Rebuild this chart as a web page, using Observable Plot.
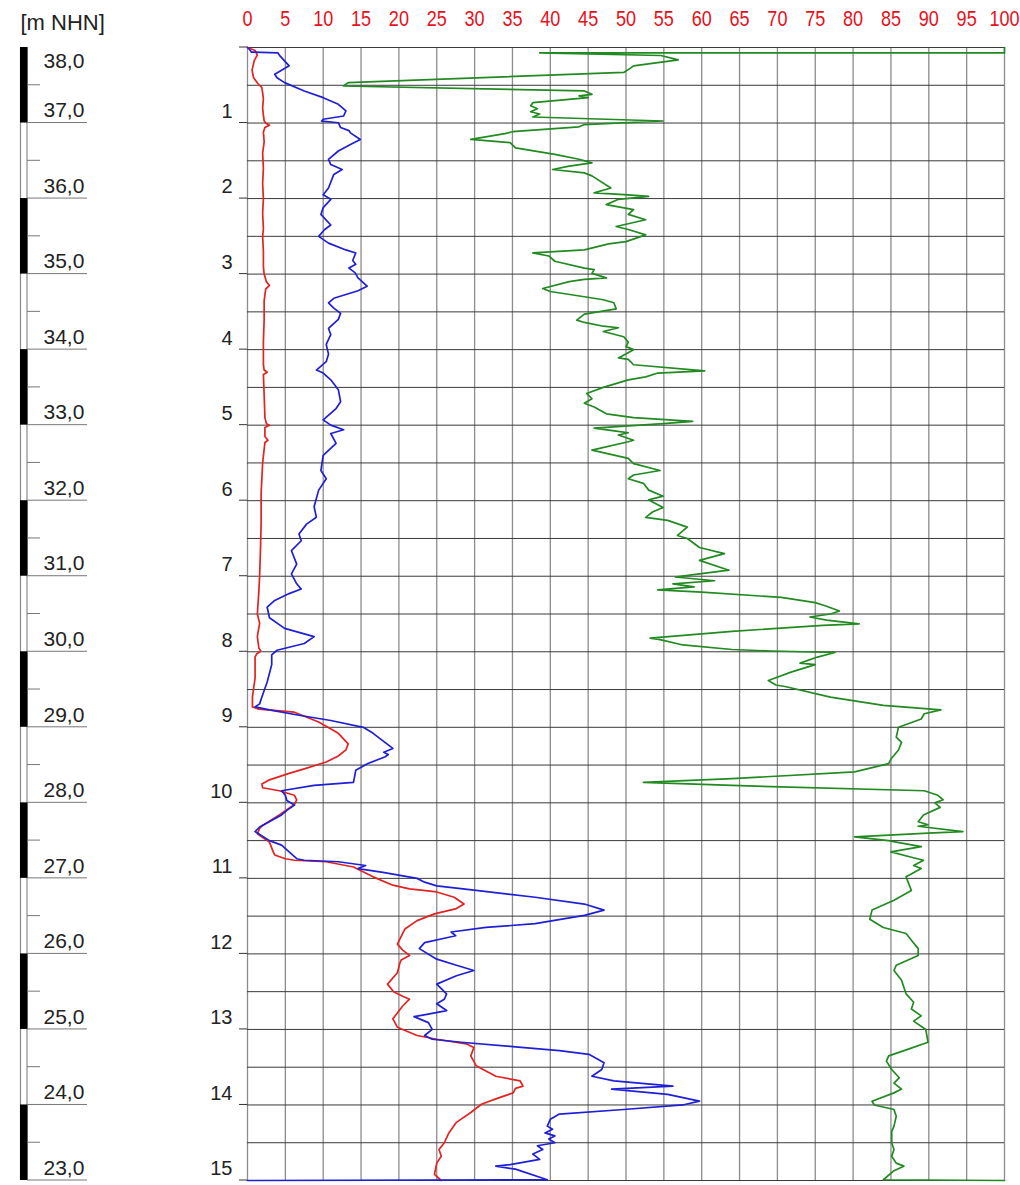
<!DOCTYPE html>
<html>
<head>
<meta charset="utf-8">
<script src="https://cdn.jsdelivr.net/npm/d3@7"></script>
<script src="https://cdn.jsdelivr.net/npm/@observablehq/plot@0.6"></script>
<style>
  html, body { margin: 0; padding: 0; background: #fff; overflow: hidden; }
  #chart svg { display: block; }
</style>
</head>
<body>
<div id="chart"></div>
<script>
// ---- axis / label data ----
const xTicks = [0, 5, 10, 15, 20, 25, 30, 35, 40, 45, 50, 55, 60, 65, 70, 75, 80, 85, 90, 95, 100];
const depthTickPos = [0, 1, 2, 3, 4, 5, 6, 7, 8, 9, 10, 11, 12, 13, 14, 15];
const depthLabelPos = [1, 2, 3, 4, 5, 6, 7, 8, 9, 10, 11, 12, 13, 14, 15];
const depthLabels = ["1", "2", "3", "4", "5", "6", "7", "8", "9", "10", "11", "12", "13", "14", "15"];
const elevDepth = [0, 1, 2, 3, 4, 5, 6, 7, 8, 9, 10, 11, 12, 13, 14, 15];
const elevLabels = ["38,0", "37,0", "36,0", "35,0", "34,0", "33,0", "32,0", "31,0", "30,0", "29,0", "28,0", "27,0", "26,0", "25,0", "24,0", "23,0"];
const axisTitle = "[m NHN]";

// ---- curves: [depth (m), value] ----
const redCurve = [
  [0,0],[0.02,0.5],[0.04,1.0],[0.1,1.3],[0.17,0.9],[0.3,0.6],[0.4,0.8],[0.48,1.4],[0.53,1.9],[0.6,2.0],
  [0.68,2.1],[0.8,2.0],[0.9,2.1],[0.97,2.2],[1.0,2.4],[1.03,2.9],[1.06,2.3],[1.12,2.1],[1.25,2.2],[1.4,2.0],
  [1.6,2.1],[1.8,2.0],[2.0,2.1],[2.2,2.0],[2.4,2.1],[2.5,2.0],[2.7,2.1],[2.9,2.1],[3.0,2.2],[3.1,2.5],
  [3.15,2.9],[3.2,2.4],[3.35,2.2],[3.6,2.2],[3.9,2.1],[4.2,2.1],[4.27,2.2],[4.3,2.6],[4.33,2.1],[4.6,2.2],
  [4.9,2.3],[4.98,2.5],[5.0,2.9],[5.03,2.3],[5.15,2.3],[5.2,2.7],[5.23,2.3],[5.5,2.0],[5.9,1.8],[6.3,1.8],
  [6.7,1.7],[7.0,1.6],[7.2,1.5],[7.5,1.3],[7.62,1.6],[7.8,1.3],[7.95,1.5],[7.99,1.75],[8.03,1.2],[8.07,1.0],
  [8.35,1.0],[8.6,0.65],[8.73,0.65],[8.76,1.5],[8.8,6.2],[8.93,9.4],[9.08,12.0],[9.22,13.3],[9.3,13.0],[9.38,12.0],
  [9.46,10.4],[9.55,7.5],[9.61,5.5],[9.7,2.8],[9.75,1.9],[9.8,2.0],[9.84,4.2],[9.9,6.2],[9.96,6.5],[10.02,6.2],
  [10.16,4.2],[10.3,2.0],[10.34,1.6],[10.41,1.3],[10.52,2.9],[10.65,3.4],[10.69,3.6],[10.74,5.0],[10.76,6.2],[10.78,10.4],
  [10.85,14.0],[10.98,16.6],[11.09,19.2],[11.14,21.4],[11.18,25.0],[11.25,27.3],[11.34,28.6],[11.4,27.6],[11.47,24.7],[11.56,22.4],
  [11.67,20.8],[11.87,19.8],[11.95,20.5],[12.02,21.4],[12.08,20.3],[12.13,20.1],[12.25,19.8],[12.4,18.5],[12.5,19.3],[12.56,20.5],
  [12.6,21.4],[12.69,20.5],[12.86,19.2],[12.97,19.8],[13.08,22.4],[13.13,25.0],[13.19,28.9],[13.24,29.9],[13.35,29.5],[13.48,30.2],
  [13.62,32.8],[13.68,36.0],[13.75,36.4],[13.78,35.4],[13.84,35.1],[13.92,32.8],[13.99,30.9],[14.1,29.5],[14.23,27.6],[14.37,26.6],
  [14.5,26.0],[14.59,25.3],[14.68,25.6],[14.77,25.0],[14.92,24.7],[15.0,25.6]
];

const blueCurve = [
  [0,0],[0.03,0.3],[0.06,0.5],[0.07,4.0],[0.1,4.2],[0.243,5.5],[0.3,4.5],[0.354,3.6],[0.4,3.9],[0.465,4.9],
  [0.575,7.5],[0.664,10.0],[0.752,12.0],[0.84,13.0],[0.907,12.7],[0.95,10.0],[0.975,9.8],[0.996,12.0],[1.06,12.3],[1.1,13.4],
  [1.13,13.6],[1.217,14.9],[1.283,13.6],[1.37,12.0],[1.48,10.7],[1.55,11.0],[1.615,12.5],[1.68,11.4],[1.86,10.7],[1.95,10.0],
  [2.01,11.0],[2.12,10.0],[2.21,9.7],[2.35,11.0],[2.41,10.2],[2.5,9.4],[2.59,10.7],[2.68,13.0],[2.72,14.3],[2.82,13.9],
  [2.87,14.3],[2.92,13.4],[2.98,14.2],[3.05,14.6],[3.16,15.8],[3.22,14.6],[3.32,11.4],[3.38,10.7],[3.45,11.4],[3.52,12.3],
  [3.6,12.0],[3.72,10.7],[3.8,11.0],[3.93,10.4],[4.06,10.7],[4.16,10.4],[4.27,9.1],[4.31,10.0],[4.4,11.0],[4.53,12.0],
  [4.69,12.3],[4.78,11.7],[4.93,10.0],[5.0,11.0],[5.06,12.7],[5.11,11.0],[5.24,11.7],[5.4,10.0],[5.6,9.7],[5.71,10.4],
  [5.86,9.4],[6.08,8.8],[6.22,9.1],[6.31,7.8],[6.44,6.8],[6.53,7.1],[6.66,5.8],[6.84,6.5],[6.97,5.8],[7.1,6.5],
  [7.17,7.1],[7.23,5.5],[7.32,3.6],[7.41,2.6],[7.55,2.9],[7.69,4.9],[7.8,8.8],[7.89,7.5],[7.98,3.9],[8.04,3.2],
  [8.17,3.2],[8.4,2.6],[8.6,1.9],[8.69,1.6],[8.73,1.0],[8.77,2.9],[8.84,6.8],[8.91,11.0],[9.0,15.3],[9.08,16.6],
  [9.15,17.5],[9.28,19.2],[9.33,18.0],[9.36,18.6],[9.39,18.2],[9.48,15.9],[9.57,14.3],[9.73,14.0],[9.77,8.8],[9.84,4.5],
  [9.9,5.0],[9.97,5.2],[10.03,6.2],[10.1,5.2],[10.16,4.5],[10.32,1.6],[10.38,1.0],[10.5,2.9],[10.56,4.5],[10.65,5.5],
  [10.74,6.5],[10.76,7.5],[10.78,12.0],[10.83,15.6],[10.87,14.6],[10.92,17.9],[11.0,22.4],[11.05,23.4],[11.1,25.0],[11.16,30.2],
  [11.25,38.0],[11.34,44.5],[11.42,47.1],[11.49,44.5],[11.6,38.0],[11.65,31.5],[11.71,26.9],[11.76,27.5],[11.78,26.6],[11.85,23.4],
  [11.93,22.7],[12.07,25.0],[12.15,27.6],[12.22,29.9],[12.29,27.6],[12.4,25.0],[12.53,26.3],[12.6,26.0],[12.66,25.0],[12.75,26.3],
  [12.8,23.7],[12.83,22.0],[12.91,23.9],[13.0,24.4],[13.08,23.4],[13.13,24.4],[13.17,28.2],[13.23,35.4],[13.28,41.2],[13.33,45.1],
  [13.44,47.1],[13.53,46.8],[13.62,45.5],[13.68,48.4],[13.75,56.2],[13.79,48.1],[13.86,55.5],[13.95,59.7],[14.0,57.5],[14.06,49.7],
  [14.12,41.2],[14.19,40.0],[14.28,39.6],[14.32,40.3],[14.37,39.3],[14.41,40.6],[14.45,39.8],[14.5,40.6],[14.54,38.3],[14.59,39.0],
  [14.65,37.7],[14.72,38.6],[14.79,34.7],[14.81,32.8],[14.85,35.4],[14.99,39.6],[15.0,0]
];

const greenCurve = [
  [0.0,100],[0.07,100],[0.07,38.6],[0.106,54.6],[0.163,56.9],[0.243,51.0],[0.28,50.5],[0.33,49.7],[0.465,13.3],[0.51,12.7],
  [0.575,44.5],[0.62,45.5],[0.64,43.8],[0.664,45.0],[0.73,37.7],[0.77,37.4],[0.81,38.3],[0.85,37.4],[0.88,38.6],[0.92,37.7],
  [0.973,54.9],[1.02,44.5],[1.05,43.8],[1.115,35.0],[1.14,34.0],[1.217,29.5],[1.26,34.7],[1.33,35.4],[1.416,40.6],[1.48,43.8],
  [1.527,45.5],[1.57,42.5],[1.615,40.3],[1.66,44.5],[1.7,45.5],[1.86,48.0],[1.925,45.8],[1.95,50.3],[1.97,53.0],[2.01,49.0],
  [2.08,47.4],[2.146,51.0],[2.21,50.3],[2.28,52.6],[2.37,48.7],[2.41,50.3],[2.48,52.6],[2.57,50.0],[2.6,47.7],[2.68,44.5],
  [2.72,37.7],[2.76,39.8],[2.83,40.6],[2.92,44.5],[2.94,45.8],[2.99,45.5],[3.05,47.4],[3.07,44.5],[3.1,42.5],[3.19,39.0],
  [3.23,40.0],[3.3,44.5],[3.34,47.0],[3.38,48.4],[3.46,48.7],[3.53,44.5],[3.61,43.5],[3.64,44.5],[3.69,47.0],[3.71,49.0],
  [3.76,47.0],[3.83,49.7],[3.9,50.3],[3.96,50.0],[4.0,51.0],[4.11,49.0],[4.13,50.3],[4.2,51.0],[4.28,60.4],[4.31,54.2],
  [4.36,52.6],[4.4,50.3],[4.5,47.0],[4.58,44.8],[4.65,45.5],[4.71,44.5],[4.76,45.8],[4.85,47.4],[4.9,51.0],[4.95,58.8],
  [4.98,54.9],[5.04,45.8],[5.08,48.7],[5.1,50.3],[5.13,49.0],[5.2,51.0],[5.22,50.3],[5.33,45.5],[5.38,47.7],[5.44,50.3],
  [5.51,51.0],[5.6,54.5],[5.66,51.0],[5.71,50.3],[5.77,52.3],[5.86,53.0],[5.94,54.9],[5.99,53.0],[6.09,54.9],[6.15,53.5],
  [6.22,52.6],[6.26,55.5],[6.35,58.1],[6.46,56.8],[6.5,58.1],[6.62,59.7],[6.7,63.0],[6.79,59.7],[6.92,63.6],[6.97,59.7],
  [7.01,56.5],[7.06,61.7],[7.1,56.2],[7.14,59.0],[7.18,54.2],[7.21,60.0],[7.28,70.5],[7.35,75.0],[7.39,76.3],[7.46,78.2],
  [7.5,77.0],[7.54,74.3],[7.58,76.5],[7.63,80.8],[7.65,76.0],[7.73,64.0],[7.82,53.2],[7.84,54.5],[7.91,57.5],[7.97,64.0],
  [7.99,69.2],[8.01,77.6],[8.07,75.3],[8.15,73.0],[8.17,75.0],[8.27,71.8],[8.38,68.8],[8.44,69.8],[8.46,71.0],[8.6,77.0],
  [8.71,84.0],[8.77,91.6],[8.82,89.4],[8.89,89.0],[9.0,86.0],[9.13,85.7],[9.2,86.4],[9.3,86.0],[9.42,85.0],[9.48,84.7],
  [9.59,80.2],[9.68,64.0],[9.73,52.3],[9.77,64.0],[9.84,89.4],[9.9,91.2],[9.96,91.9],[10.0,90.8],[10.06,91.5],[10.16,89.3],
  [10.25,88.6],[10.29,89.9],[10.31,88.6],[10.38,94.5],[10.4,89.9],[10.45,80.2],[10.5,84.7],[10.52,85.7],[10.58,89.0],[10.65,85.0],
  [10.72,87.7],[10.76,89.3],[10.83,88.0],[10.87,89.0],[10.98,87.0],[11.16,87.7],[11.29,85.4],[11.42,82.5],[11.54,82.2],[11.65,84.0],
  [11.73,87.0],[11.82,87.7],[11.93,88.6],[12.02,88.6],[12.15,85.7],[12.22,85.4],[12.35,86.4],[12.53,87.0],[12.64,88.0],[12.73,87.7],
  [12.82,89.0],[12.89,88.0],[13.0,89.6],[13.17,89.9],[13.26,87.3],[13.35,84.7],[13.42,84.4],[13.53,85.1],[13.64,86.1],[13.71,85.4],
  [13.79,86.4],[13.84,85.4],[13.95,82.5],[14.0,82.8],[14.06,85.4],[14.15,85.7],[14.28,85.4],[14.35,85.1],[14.5,85.1],[14.59,85.4],
  [14.68,85.1],[14.77,85.7],[14.81,86.7],[14.87,85.4],[14.99,84.0],[15.0,100]
];

// ---- grid definitions ----
const gridX = xTicks;
const gridY = d3.range(0, 15.001, 0.5);
const halfDepth = d3.range(0.5, 15, 1);
const blackIntervals = d3.range(0, 15, 2).map(a => [a, a + 1]);

// elevation column (scale bar) drawn with the plot's y scale
function elevationColumn(index, scales) {
  const y = scales.y;
  const g = d3.create("svg:g");
  const top = y(0), bottom = y(15);
  g.append("line").attr("x1", 20.5).attr("x2", 20.5).attr("y1", top).attr("y2", bottom)
    .attr("stroke", "#8a8a8a").attr("stroke-width", 1.2);
  g.append("line").attr("x1", 27).attr("x2", 27).attr("y1", top).attr("y2", bottom)
    .attr("stroke", "#8a8a8a").attr("stroke-width", 1.2);
  for (const [a, b] of blackIntervals) {
    g.append("rect").attr("x", 20).attr("width", 7.5).attr("y", y(a)).attr("height", y(b) - y(a)).attr("fill", "#000");
  }
  for (const d of elevDepth.slice(1)) {
    g.append("line").attr("x1", 27).attr("x2", 87).attr("y1", y(d)).attr("y2", y(d))
      .attr("stroke", "#777").attr("stroke-width", 1);
  }
  for (const d of halfDepth) {
    g.append("line").attr("x1", 27).attr("x2", 40).attr("y1", y(d)).attr("y2", y(d))
      .attr("stroke", "#777").attr("stroke-width", 1);
  }
  const x0 = scales.x(0);
  for (const d of depthTickPos) {
    g.append("line").attr("x1", x0 - 8).attr("x2", x0).attr("y1", y(d)).attr("y2", y(d))
      .attr("stroke", "#333").attr("stroke-width", 1);
  }
  return g.node();
}

const font = "'Liberation Sans', Arial, Helvetica, sans-serif";

const chart = Plot.plot({
  width: 1020,
  height: 1185,
  marginTop: 47,
  marginBottom: 5,
  marginLeft: 247,
  marginRight: 16,
  x: { domain: [0, 100], axis: null },
  y: { domain: [0, 15], reverse: true, axis: null },
  style: { fontFamily: font, background: "#fff", overflow: "hidden" },
  marks: [
    Plot.ruleX(gridX, { stroke: "#8c8c8c", strokeWidth: 1.3 }),
    Plot.ruleY(gridY, { stroke: "#3a3a3a", strokeWidth: 1 }),
    elevationColumn,
    Plot.line(redCurve, { x: d => d[1], y: d => d[0], stroke: "#e32222", strokeWidth: 1.7 }),
    Plot.line(greenCurve, { x: d => d[1], y: d => d[0], stroke: "#218a21", strokeWidth: 1.7 }),
    Plot.line(blueCurve, { x: d => d[1], y: d => d[0], stroke: "#1f1fd6", strokeWidth: 1.7 }),
    Plot.text(xTicks, { x: d => d, frameAnchor: "top", lineAnchor: "middle", dy: -29, text: d => String(d), fill: "#e8101a", fontSize: 19, className: "toplabels" }),
    Plot.text(depthLabelPos, { y: d => d, frameAnchor: "left", lineAnchor: "middle", dx: -15, dy: -11.5, textAnchor: "end", text: (d, i) => depthLabels[i], fill: "#222", fontSize: 20 }),
    Plot.text(elevDepth.slice(0, 1), { y: d => d, frameAnchor: "left", lineAnchor: "middle", dx: -204, dy: 13.5, textAnchor: "start", text: (d, i) => elevLabels[i], fill: "#222", fontSize: 21 }),
    Plot.text(elevDepth.slice(1), { y: d => d, frameAnchor: "left", lineAnchor: "middle", dx: -204, dy: -12.5, textAnchor: "start", text: (d, i) => elevLabels[i + 1], fill: "#222", fontSize: 21 }),
    Plot.text([axisTitle], { frameAnchor: "top-left", lineAnchor: "middle", dx: -227, dy: -25, textAnchor: "start", text: d => d, fill: "#222", fontSize: 22 })
  ]
});

// slight vertical stretch of the top scale labels (tall, narrow digits in the original)
d3.select(chart).selectAll(".toplabels text").each(function () {
  const t = this.getAttribute("transform");
  if (t) this.setAttribute("transform", t + " scale(0.95,1.2)");
});

document.getElementById("chart").appendChild(chart);
</script>
</body>
</html>
